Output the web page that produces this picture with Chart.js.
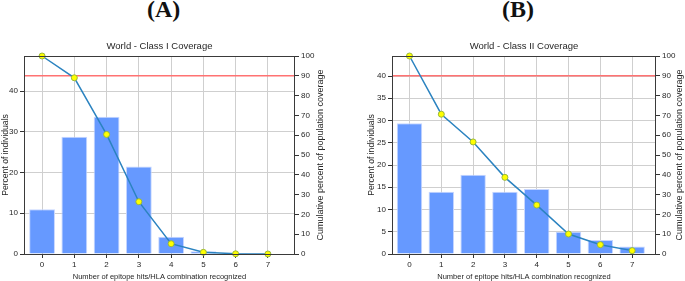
<!DOCTYPE html>
<html>
<head>
<meta charset="utf-8">
<script src="https://cdn.jsdelivr.net/npm/chart.js@4"></script>
<style>
  body { margin: 0; background: #fff; width: 685px; height: 281px; position: relative; overflow: hidden; }
  .panel-label { position: absolute; top: -4px; font: bold 24px 'Liberation Serif', 'Times New Roman', serif; color: #111; }
  canvas { position: absolute; }
</style>
</head>
<body>
<div class="panel-label" style="left:147px">(A)</div>
<div class="panel-label" style="left:502px">(B)</div>
<canvas id="chart-a" width="326" height="245" style="left:0;top:36px"></canvas>
<canvas id="chart-b" width="319" height="245" style="left:366px;top:36px"></canvas>
<script>
/* Population coverage plots, class I and class II */

const hits = [0, 1, 2, 3, 4, 5, 6, 7];

// percent of individuals with exactly N hits (bars)
const classIPercent = [11.0, 28.8, 33.7, 21.5, 4.25, 0.66, 0.05, 0.0];
const classIIPercent = [29.4, 14.0, 17.8, 14.0, 14.6, 5.0, 3.15, 1.7];

// cumulative percent of population coverage (line)
const classICumulative = [100, 89.0, 60.4, 26.4, 5.2, 0.85, 0.1, 0.0];
const classIICumulative = [100, 70.6, 56.6, 38.7, 24.7, 10.1, 4.7, 1.7];

const classITicks = [0, 10, 20, 30, 40];
const classIITicks = [0, 5, 10, 15, 20, 25, 30, 35, 40];
const coverageTicks = [0, 10, 20, 30, 40, 50, 60, 70, 80, 90, 100];

const coverageTarget = 90;
const rightTitle = 'Cumulative percent of population coverage';

const FONT = "'Liberation Sans', Arial, sans-serif";
const TEXT = '#262626';
const GRID = '#cfcfcf';

// frame round the plot, red target line, right axis title (reads upwards)
const framePlugin = {
    id: 'frame',
    beforeDatasetsDraw(chart) {
        const {ctx, chartArea: a, scales} = chart;
        const y = scales.y1.getPixelForValue(coverageTarget);
        ctx.save();
        ctx.strokeStyle = '#ff7272';
        ctx.lineWidth = 1.5;
        ctx.beginPath();
        ctx.moveTo(a.left, y);
        ctx.lineTo(a.right, y);
        ctx.stroke();
        ctx.restore();
    },
    afterDraw(chart) {
        const {ctx, chartArea: a} = chart;
        ctx.save();
        ctx.strokeStyle = '#3a3a3a';
        ctx.lineWidth = 1;
        ctx.strokeRect(a.left + 0.5, a.top + 0.5, a.right - a.left - 1, a.bottom - a.top);
        ctx.translate(chart.width - 5.5, (a.top + a.bottom) / 2);
        ctx.rotate(-Math.PI / 2);
        ctx.fillStyle = TEXT;
        ctx.font = '9px ' + FONT;
        ctx.textAlign = 'center';
        ctx.textBaseline = 'middle';
        ctx.fillText(rightTitle, 0, 0);
        ctx.restore();
    }
};

function makeChart(id, title, percent, cumulative, yMax, yTicks, xMin, xMax, leftW, rightW) {
    const ctx = document.getElementById(id).getContext('2d');
    return new Chart(ctx, {
        type: 'bar',
        data: {
            datasets: [{
                type: 'line',
                data: hits.map((h, i) => ({x: h, y: cumulative[i]})),
                yAxisID: 'y1',
                borderColor: '#2b83c0',
                borderWidth: 1.5,
                tension: 0,
                pointRadius: 3,
                pointBorderWidth: 1,
                pointBackgroundColor: '#ffff00',
                pointBorderColor: '#9ab83a',
                clip: false,
                order: 0
            }, {
                type: 'bar',
                data: hits.map((h, i) => ({x: h, y: percent[i]})),
                yAxisID: 'y',
                backgroundColor: '#6699ff',
                borderColor: '#c6d6ff',
                borderWidth: 1,
                barPercentage: 0.8,
                categoryPercentage: 1.0,
                order: 1
            }]
        },
        options: {
            responsive: false,
            animation: false,
            devicePixelRatio: 1,
            layout: { padding: 0 },
            plugins: {
                legend: { display: false },
                tooltip: { enabled: false },
                title: {
                    display: true,
                    text: title,
                    fullSize: false,
                    color: TEXT,
                    font: { family: FONT, size: 9.5, weight: 'normal' },
                    padding: { top: 5, bottom: 3.6 }
                }
            },
            scales: {
                x: {
                    type: 'linear',
                    min: xMin,
                    max: xMax,
                    offset: false,
                    afterBuildTicks: s => { s.ticks = hits.map(v => ({value: v})); },
                    afterFit: s => { s.height = 27; },
                    grid: { color: GRID, offset: false, tickLength: 4, tickColor: '#333' },
                    border: { display: false },
                    ticks: { color: TEXT, font: { family: FONT, size: 8 }, padding: 2, autoSkip: false, maxRotation: 0 },
                    title: {
                        display: true,
                        text: 'Number of epitope hits/HLA combination recognized',
                        color: TEXT,
                        font: { family: FONT, size: 7.5 },
                        padding: 0
                    }
                },
                y: {
                    position: 'left',
                    min: 0,
                    max: yMax,
                    afterBuildTicks: s => { s.ticks = yTicks.map(v => ({value: v})); },
                    afterFit: s => { s.width = leftW; },
                    grid: { color: GRID, tickLength: 4, tickColor: '#333' },
                    border: { display: false },
                    ticks: { color: TEXT, font: { family: FONT, size: 8 }, padding: 2 },
                    title: {
                        display: true,
                        text: 'Percent of individuals',
                        color: TEXT,
                        font: { family: FONT, size: 8.6 },
                        padding: 0
                    }
                },
                y1: {
                    position: 'right',
                    min: 0,
                    max: 100,
                    afterBuildTicks: s => { s.ticks = coverageTicks.map(v => ({value: v})); },
                    afterFit: s => { s.width = rightW; },
                    grid: { drawOnChartArea: false, tickLength: 4, tickColor: '#333' },
                    border: { display: false },
                    ticks: { color: TEXT, font: { family: FONT, size: 8 }, padding: 2 }
                }
            }
        },
        plugins: [framePlugin]
    });
}

makeChart('chart-a', 'World - Class I Coverage', classIPercent, classICumulative, 48.6, classITicks, -0.56, 7.84, 24, 31);
makeChart('chart-b', 'World - Class II Coverage', classIIPercent, classIICumulative, 44.5, classIITicks, -0.55, 7.75, 26, 29);
</script>
</body>
</html>
